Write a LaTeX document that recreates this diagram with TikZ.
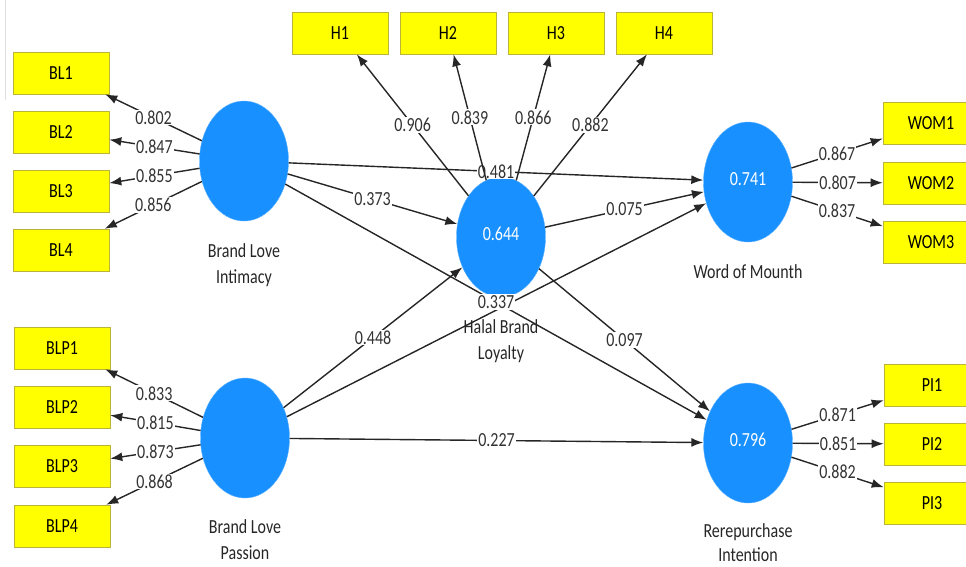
\documentclass[tikz,border=0pt]{standalone}
\usepackage{fontspec}
\setmainfont{Carlito}[FakeStretch=0.8]
\usepackage{tikz}
\usetikzlibrary{arrows.meta}
\usetikzlibrary{shapes.geometric}

\definecolor{plsblue}{RGB}{24,144,255}
\definecolor{indyellow}{RGB}{255,255,0}

\begin{document}
\begin{tikzpicture}[x=1pt,y=-1pt,font=\fontsize{20}{26}\selectfont,
        lv/.style={ellipse,fill=plsblue,draw=plsblue!70!white,minimum width=89pt,minimum height=120pt,inner sep=0pt,text=white},
        ind/.style={rectangle,fill=indyellow,draw=yellow!70!black,line width=0.6pt,minimum width=96pt,minimum height=42pt},
        arr/.style={-{Latex[length=12pt,width=9pt]},line width=1.4pt,black!85},
        coef/.style={fill=white,inner sep=1pt,text=black!80},
        lvname/.style={align=center,text=black!85}]
        \useasboundingbox (0,0) rectangle (966,566);
        \draw[black!12] (5,0) -- (5,100);

        % latent variables
        \node[lv] (BLI) at (244,161) {};
        \node[lv] (BLP) at (245,438) {};
        \node[lv] (HBL) at (501,237) {\raisebox{6pt}{0.644}};
        \node[lv] (WOM) at (748,182) {\raisebox{6pt}{0.741}};
        \node[lv] (RI) at (748,443) {\raisebox{6pt}{0.796}};

        \node[lvname] (BLIname) at (244,265) {Brand Love\\Intimacy};
        \node[lvname] (BLPname) at (245,540) {Brand Love\\Passion};
        \node[lvname] (HBLname) at (501,341) {Halal Brand\\Loyalty};
        \node[lvname] (WOMname) at (748,272) {Word of Mounth};
        \node[lvname,font=\fontsize{20}{24}\selectfont] (RIname) at (748,543) {Rerepurchase\\Intention};

        % inner model
        \draw[arr] (BLI) -- node[coef] {0.373} (HBL);
        \draw[arr] (BLI) -- node[coef] {0.481} (WOM);
        \draw[arr] (BLP) -- node[coef] {0.448} (HBL);
        \draw[arr] (BLP) -- (WOM);
        \draw[arr] (BLI) -- node[coef] {0.337} (RI);
        \draw[arr] (BLP) -- node[coef] {0.227} (RI);
        \draw[arr] (HBL) -- node[coef] {0.075} (WOM);
        \draw[arr] (HBL) -- node[coef] {0.097} (RI);

        % outer model
        \foreach \i/\y/\v in {1/73/0.802,2/132/0.847,3/191/0.855,4/250/0.856}{
            \node[ind] (BL\i) at (61,\y) {BL\i};
            \draw[arr] (BLI) -- node[coef] {\v} (BL\i);
        }
        \foreach \i/\y/\v in {1/348/0.833,2/407/0.815,3/466/0.873,4/526/0.868}{
            \node[ind] (BLP\i) at (62,\y) {BLP\i};
            \draw[arr] (BLP) -- node[coef] {\v} (BLP\i);
        }
        \foreach \i/\x/\v in {1/340/0.906,2/448/0.839,3/556/0.866,4/664/0.882}{
            \node[ind] (H\i) at (\x,33) {H\i};
            \draw[arr] (HBL) -- node[coef] {\v} (H\i);
        }
        \foreach \i/\y/\v in {1/123/0.867,2/183/0.807,3/242/0.837}{
            \node[ind] (WOM\i) at (931,\y) {WOM\i};
            \draw[arr] (WOM) -- node[coef] {\v} (WOM\i);
        }
        \foreach \i/\y/\v in {1/385/0.871,2/444/0.851,3/503/0.882}{
            \node[ind] (PI\i) at (932,\y) {PI\i};
            \draw[arr] (RI) -- node[coef] {\v} (PI\i);
        }
\end{tikzpicture}
\end{document}
